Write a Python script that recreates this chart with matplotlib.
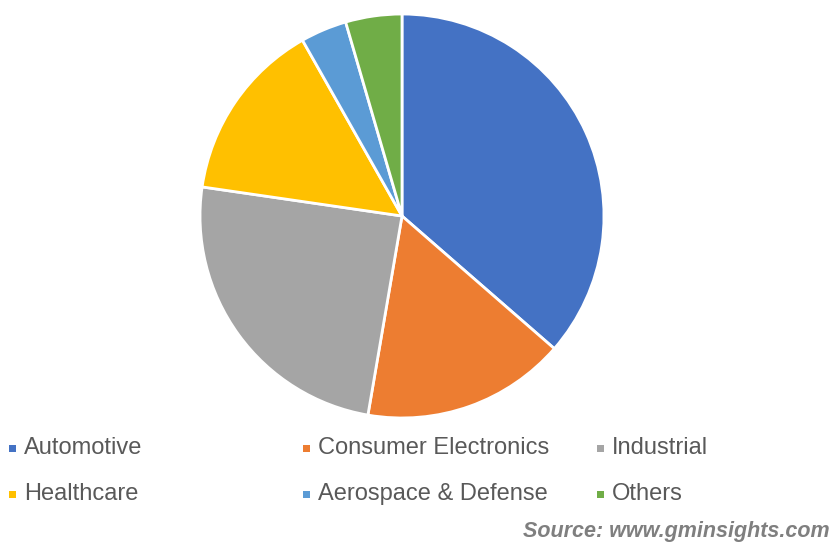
import matplotlib.pyplot as plt
from matplotlib.patches import Rectangle

# Market share by application (%)
segments = ['Automotive', 'Consumer Electronics', 'Industrial',
            'Healthcare', 'Aerospace & Defense', 'Others']
shares = [36.4, 16.3, 24.6, 14.5, 3.7, 4.5]
colors = ['#4472C4', '#ED7D31', '#A5A5A5', '#FFC000', '#5B9BD5', '#70AD47']

W, H = 834, 548
fig = plt.figure(figsize=(W / 100, H / 100), dpi=100)
fig.patch.set_facecolor('white')

# pie centred at (402, 216) px with a 204 px radius
cx, cy, r = 402, 216, 204
ax = fig.add_axes([(cx - r) / W, (H - cy - r) / H, 2 * r / W, 2 * r / H])
ax.pie(shares, colors=colors, startangle=90, counterclock=False,
       wedgeprops=dict(edgecolor='white', linewidth=2))
ax.set_xlim(-1.01, 1.01)
ax.set_ylim(-1.01, 1.01)
ax.set_aspect('equal')
ax.axis('off')

# legend laid out in a 3 x 2 grid below the pie
col_x = [12, 306, 600]
row_y = [448, 494]
for i, (name, c) in enumerate(zip(segments, colors)):
    x = col_x[i % 3]
    y = row_y[i // 3]
    fig.patches.append(Rectangle(((x - 3.5) / W, (H - y - 3.5) / H), 7 / W, 7 / H,
                                 transform=fig.transFigure, facecolor=c,
                                 edgecolor='none'))
    fig.text((x + 12) / W, (H - y) / H, name, fontsize=17,
             family='Liberation Sans', color='#595959', va='center', ha='left')

fig.text(830 / W, (H - 532) / H, 'Source: www.gminsights.com', fontsize=15.5,
         family='Liberation Sans', fontweight='bold', fontstyle='italic',
         color='#7F7F7F', va='center', ha='right')

fig.savefig('out.png', dpi=100)
